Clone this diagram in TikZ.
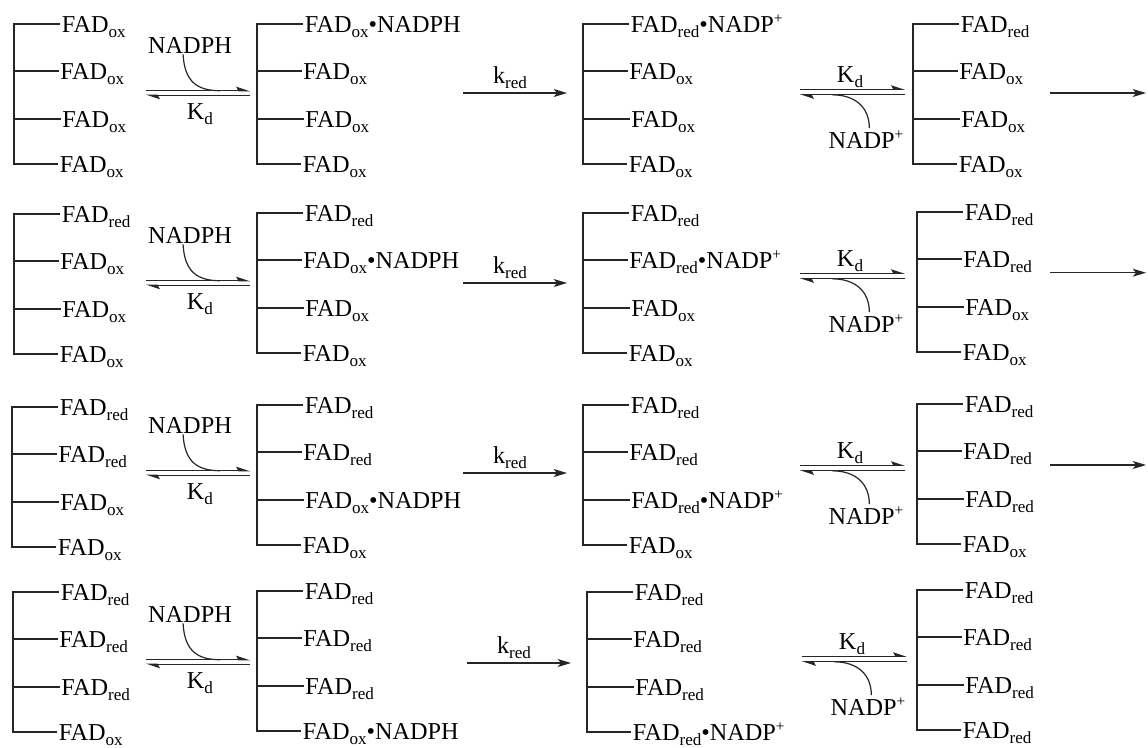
\documentclass[tikz,border=0pt]{standalone}
\usepackage{fontspec}
\setmainfont{Liberation Serif}
\usetikzlibrary{arrows.meta}
\newcommand\subtx[1]{\raisebox{-3.8pt}{\fontsize{12.8}{12.8}\selectfont #1}}
\newcommand\suptx[1]{\raisebox{6.3pt}{\fontsize{11.5}{11.5}\selectfont #1}}
\newcommand\FadOx{FAD\subtx{ox}}
\newcommand\FadRed{FAD\subtx{red}}
\newcommand\CplxN{\FadOx\textbullet NADPH}
\newcommand\CplxP{\FadRed\textbullet NADP\suptx{+}}
\tikzset{
  lbl/.style={font=\fontsize{18.2}{20}\selectfont, inner xsep=1.2pt, inner ysep=0pt,
              text height=12pt, text depth=0pt, anchor=west},
  tag/.style={font=\fontsize{18.2}{20}\selectfont, inner sep=0pt},
  ln/.style={line width=0.9pt, draw=black!85},
  harp/.style={ln, -{Stealth[harpoon, length=9pt, width=6pt, inset=1.5pt]}},
  fwd/.style={ln, -{Stealth[length=10pt, width=6pt, inset=2.5pt]}},
}
% bracket: prefix, x of vertical, y of first line, four texts
\newcommand\Brk[7]{%
  \coordinate (#1b1) at (#2,#3);
  \coordinate (#1b2) at (#2,#3+47);
  \coordinate (#1b3) at (#2,#3+95);
  \coordinate (#1b4) at (#2,#3+140);
  \node[lbl] (#1t1) at (#2+46,#3) {#4};
  \node[lbl] (#1t2) at (#2+44.5,#3+47) {#5};
  \node[lbl] (#1t3) at (#2+46.5,#3+95) {#6};
  \node[lbl] (#1t4) at (#2+44,#3+140) {#7};
  \draw[ln] (#1t1.west) -- (#1b1) -- (#1b4) -- (#1t4.west);
  \draw[ln] (#1b2) -- (#1t2.west);
  \draw[ln] (#1b3) -- (#1t3.west);
}
% binding equilibrium: prefix, x start, y of upper line
\newcommand\EqA[3]{%
  \coordinate (#1a) at (#2,#3);
  \coordinate (#1b) at (#2+104,#3);
  \coordinate (#1c) at (#2,#3+4.5);
  \coordinate (#1d) at (#2+104,#3+4.5);
  \coordinate (#1m) at (#2+74,#3);
  \draw[harp] (#1a) -- (#1b);
  \draw[harp] (#1d) -- (#1c);
  \node[tag, anchor=base] (#1n) at (#2+44,#3-37.7) {NADPH};
  \node[tag, anchor=base] (#1k) at (#2+54,#3+28.3) {K\subtx{d}};
  \draw[ln] ([xshift=-5.2pt,yshift=-0.8pt]#1n.south) .. controls +(1.5,28) and +(-22,0) .. (#1m);
}
% release equilibrium: prefix, x start, y of upper line
\newcommand\EqB[3]{%
  \coordinate (#1a) at (#2,#3);
  \coordinate (#1b) at (#2+105,#3);
  \coordinate (#1c) at (#2,#3+5.5);
  \coordinate (#1d) at (#2+105,#3+5.5);
  \coordinate (#1m) at (#2+32,#3+5.5);
  \draw[harp] (#1a) -- (#1b);
  \draw[harp] (#1d) -- (#1c);
  \node[tag, anchor=base] (#1k) at (#2+50,#3-7.3) {K\subtx{d}};
  \node[tag, anchor=base] (#1n) at (#2+66,#3+58.7) {NADP\suptx{+}};
  \draw[ln] (#1m) .. controls +(24,0) and +(0,-20) .. ([xshift=2.5pt,yshift=2pt]#1n.north);
}
% reduction step: prefix, x start, y
\newcommand\Red[3]{%
  \coordinate (#1a) at (#2,#3);
  \coordinate (#1b) at (#2+104,#3);
  \draw[fwd] (#1a) -- (#1b);
  \node[tag, anchor=base] (#1k) at (#2+47,#3-10) {k\subtx{red}};
}
\begin{document}
\begin{tikzpicture}[x=0.75pt,y=-0.75pt]
\path[use as bounding box] (0,0) rectangle (1148,747);
% ---------- row 1
\Brk{ra}{14}{24}{\FadOx}{\FadOx}{\FadOx}{\FadOx}
\EqA{rae}{146}{90.7}
\Brk{rb}{257}{24}{\CplxN}{\FadOx}{\FadOx}{\FadOx}
\Red{rbk}{463}{93}
\Brk{rc}{583}{24}{\CplxP}{\FadOx}{\FadOx}{\FadOx}
\EqB{rce}{800}{89.3}
\Brk{rd}{913}{24}{\FadRed}{\FadOx}{\FadOx}{\FadOx}
\coordinate (rf1) at (1050,93);
\coordinate (rf2) at (1146,93);
\draw[fwd] (rf1) -- (rf2);
% ---------- row 2
\Brk{sa}{14}{214}{\FadRed}{\FadOx}{\FadOx}{\FadOx}
\EqA{sae}{146}{280.7}
\Brk{sb}{257}{213}{\FadRed}{\CplxN}{\FadOx}{\FadOx}
\Red{sbk}{463}{283}
\Brk{sc}{583}{213}{\FadRed}{\CplxP}{\FadOx}{\FadOx}
\EqB{sce}{800}{273.3}
\Brk{sd}{917}{212}{\FadRed}{\FadRed}{\FadOx}{\FadOx}
\coordinate (sf1) at (1050,272.7);
\coordinate (sf2) at (1146,272.7);
\draw[fwd] (sf1) -- (sf2);
% ---------- row 3
\Brk{ta}{12}{407}{\FadRed}{\FadRed}{\FadOx}{\FadOx}
\EqA{tae}{146}{470.7}
\Brk{tb}{257}{405}{\FadRed}{\FadRed}{\CplxN}{\FadOx}
\Red{tbk}{463}{473}
\Brk{tc}{583}{405}{\FadRed}{\FadRed}{\CplxP}{\FadOx}
\EqB{tce}{800}{465.3}
\Brk{td}{917}{404}{\FadRed}{\FadRed}{\FadRed}{\FadOx}
\coordinate (tf1) at (1050,465);
\coordinate (tf2) at (1146,465);
\draw[fwd] (tf1) -- (tf2);
% ---------- row 4
\Brk{ua}{13}{592}{\FadRed}{\FadRed}{\FadRed}{\FadOx}
\EqA{uae}{146}{659.7}
\Brk{ub}{257}{591}{\FadRed}{\FadRed}{\FadRed}{\CplxN}
\Red{ubk}{467}{663}
\Brk{uc}{587}{592}{\FadRed}{\FadRed}{\FadRed}{\CplxP}
\EqB{uce}{802}{656.3}
\Brk{ud}{917}{590}{\FadRed}{\FadRed}{\FadRed}{\FadRed}
\end{tikzpicture}
\end{document}
